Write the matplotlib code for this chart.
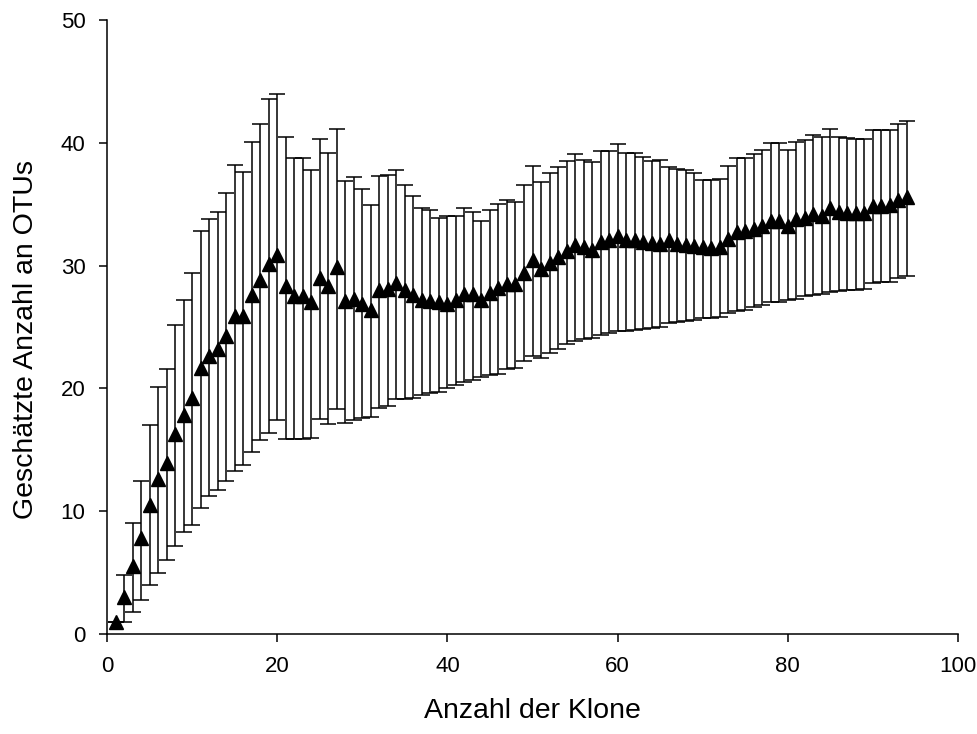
import matplotlib
matplotlib.use("Agg")
import matplotlib.pyplot as plt
import numpy as np

plt.rcParams['font.family'] = ['Liberation Sans', 'DejaVu Sans']

# Anzahl der Klone
klone = list(range(1, 95))

# geschaetzte OTUs (Mittelwert) mit oberer / unterer Grenze
otus = [
    1.0, 3.0, 5.5, 7.8, 10.5, 12.6, 13.9, 16.3, 17.8, 19.2,
    21.7, 22.6, 23.2, 24.3, 25.9, 25.9, 27.6, 28.8, 30.1, 30.9,
    28.3, 27.5, 27.5, 27.0, 29.0, 28.3, 29.9, 27.1, 27.3, 26.9,
    26.4, 28.0, 28.1, 28.6, 28.0, 27.6, 27.2, 27.1, 27.0, 26.9,
    27.2, 27.7, 27.7, 27.2, 27.8, 28.2, 28.5, 28.5, 29.4, 30.45,
    29.7, 30.2, 30.7, 31.2, 31.65, 31.5, 31.3, 31.95, 32.1, 32.4,
    32.1, 32.1, 31.95, 31.8, 31.75, 32.1, 31.75, 31.7, 31.6, 31.5,
    31.45, 31.55, 32.2, 32.7, 32.8, 33.0, 33.2, 33.65, 33.65, 33.25,
    33.8, 33.9, 34.2, 34.05, 34.7, 34.35, 34.25, 34.25, 34.3, 34.85,
    34.85, 34.9, 35.3, 35.6,
]
oben = [
    1.0, 4.8, 9.0, 12.5, 17.0, 20.1, 21.6, 25.2, 27.2, 29.4,
    32.8, 33.8, 34.4, 35.9, 38.2, 37.6, 40.1, 41.5, 43.6, 44.0,
    40.5, 38.8, 38.8, 37.8, 40.3, 39.2, 41.1, 36.9, 37.2, 36.2,
    34.9, 37.3, 37.4, 37.8, 36.6, 35.7, 34.7, 34.5, 33.9, 34.0,
    34.0, 34.7, 34.4, 33.6, 34.5, 35.0, 35.3, 35.2, 36.6, 38.1,
    36.8, 37.5, 38.05, 38.5, 39.1, 38.6, 38.4, 39.3, 39.3, 39.9,
    39.2, 39.2, 38.85, 38.5, 38.6, 38.0, 37.9, 37.8, 37.5, 37.0,
    37.0, 37.05, 38.1, 38.8, 38.8, 39.1, 39.4, 39.95, 39.95, 39.4,
    40.06, 40.2, 40.6, 40.45, 41.1, 40.5, 40.4, 40.3, 40.3, 41.0,
    41.0, 41.0, 41.5, 41.8,
]
unten = [
    1.0, 1.0, 1.8, 2.8, 4.0, 5.0, 6.0, 7.2, 8.3, 8.9,
    10.3, 11.2, 11.7, 12.5, 13.3, 13.8, 14.8, 15.8, 16.4, 17.4,
    15.9, 15.9, 15.9, 16.0, 17.5, 17.1, 18.3, 17.2, 17.4, 17.6,
    17.7, 18.4, 18.6, 19.1, 19.1, 19.2, 19.5, 19.6, 19.7, 20.0,
    20.3, 20.5, 20.7, 20.95, 21.1, 21.2, 21.6, 21.7, 22.2, 22.6,
    22.5, 22.9, 23.2, 23.6, 23.9, 24.0, 24.1, 24.35, 24.5, 24.7,
    24.7, 24.75, 24.8, 24.9, 24.97, 25.35, 25.4, 25.5, 25.6, 25.7,
    25.75, 25.8, 26.1, 26.3, 26.4, 26.65, 26.8, 27.0, 27.0, 27.2,
    27.3, 27.5, 27.6, 27.7, 27.85, 27.9, 28.0, 28.05, 28.1, 28.55,
    28.65, 28.7, 28.95, 29.15,
]

x = np.array(klone)
y = np.array(otus)
yerr = [y - np.array(unten), np.array(oben) - y]

fig = plt.figure(figsize=(9.78, 7.34), dpi=100)
ax = fig.add_axes([0.1094, 0.1362, 0.8702, 0.8366])

ax.errorbar(x, y, yerr=yerr, fmt='none', ecolor='black',
            elinewidth=1.1, capsize=6, capthick=1.1, zorder=2)
ax.plot(x, y, linestyle='none', marker='^', markersize=9.5,
        color='black', zorder=3, clip_on=False)

ax.set_xlim(0, 100)
ax.set_ylim(0, 50)
ax.set_xticks([0, 20, 40, 60, 80, 100])
ax.set_yticks([0, 10, 20, 30, 40, 50])

for side in ['top', 'right']:
    ax.spines[side].set_visible(False)
for side in ['left', 'bottom']:
    ax.spines[side].set_linewidth(1.1)

ax.tick_params(direction='out', length=6, width=1.1, labelsize=16, pad=9.5)

ax.set_xlabel('Anzahl der Klone', fontsize=20.5, labelpad=15.5)
ax.set_ylabel('Geschätzte Anzahl an OTUs', fontsize=20.5)
ax.yaxis.set_label_coords(-0.080, 0.48)

fig.savefig('out.png', dpi=100)
